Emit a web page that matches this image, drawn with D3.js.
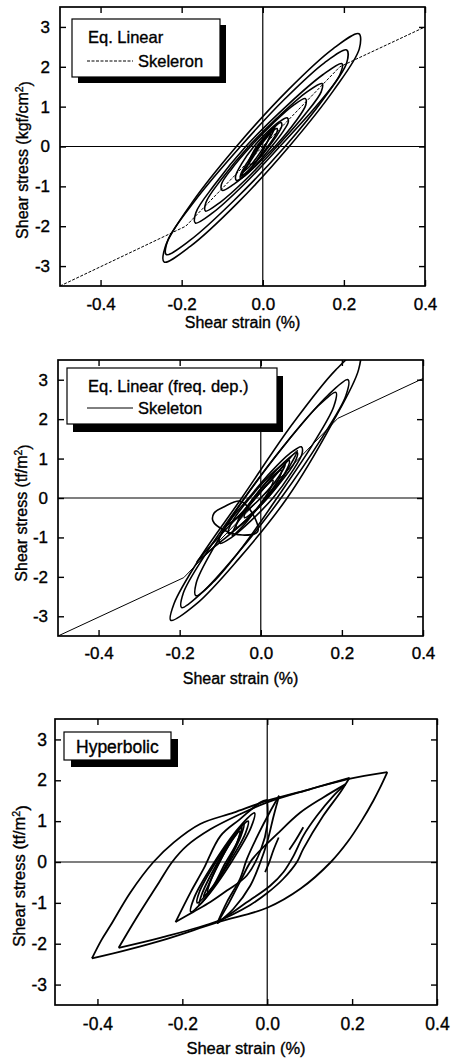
<!DOCTYPE html>
<html>
<head>
<meta charset="utf-8">
<script src="https://cdnjs.cloudflare.com/ajax/libs/d3/7.8.5/d3.min.js"></script>
<style>
  body { margin: 0; background: #fff; }
  svg text { font-family: "Liberation Sans", Arial, Helvetica, sans-serif; fill: #000; stroke: #000; stroke-width: 0.35px; }
</style>
</head>
<body>
<svg id="fig" width="451" height="1058"></svg>
<script>
// ---- axis ticks (same for all three panels)
var xTickValues = [-0.4, -0.2, 0.0, 0.2, 0.4];
var xTickLabels = ["-0.4", "-0.2", "0.0", "0.2", "0.4"];
var yTickValues = [-3, -2, -1, 0, 1, 2, 3];
var yTickLabels = ["-3", "-2", "-1", "0", "1", "2", "3"];

// ---- panel 1 : Eq. Linear  (strain %, stress kgf/cm2)
var eqSkeleton = [[-0.5, -3.5], [-0.19, -2.0], [0.19, 2.0], [0.4, 3.0]];
var eqLoop1 = [[0.237,2.83],[0.173,2.45],[0.062,1.415],[-0.065,0],[-0.175,-1.415],[-0.24,-2.5],[-0.243,-2.9],[-0.178,-2.5],[-0.062,-1.415],[0.065,0],[0.175,1.415],[0.238,2.45]];
var eqLoop2 = [[0.207,2.42],[0.152,2.1],[0.056,1.21],[-0.055,0],[-0.167,-1.355],[-0.234,-2.35],[-0.238,-2.71],[-0.179,-2.35],[-0.071,-1.355],[0.055,0],[0.151,1.21],[0.207,2.1]];
var eqLoop3 = [[0.195,2.08],[0.148,1.8],[0.061,1.04],[-0.042,0],[-0.119,-0.96],[-0.165,-1.66],[-0.166,-1.92],[-0.123,-1.66],[-0.047,-0.96],[0.042,0],[0.134,1.04],[0.19,1.8]];
var eqLoop4 = [[0.146,1.58],[0.109,1.37],[0.043,0.79],[-0.035,0],[-0.101,-0.81],[-0.14,-1.4],[-0.141,-1.62],[-0.105,-1.4],[-0.04,-0.81],[0.035,0],[0.103,0.79],[0.144,1.37]];
var eqLoop5 = [[0.105,1.2],[0.076,1.04],[0.027,0.6],[-0.03,0],[-0.076,-0.55],[-0.102,-0.95],[-0.1,-1.1],[-0.072,-0.95],[-0.024,-0.55],[0.03,0],[0.079,0.6],[0.106,1.04]];
var eqLoop6 = [[0.06,0.72],[0.041,0.62],[0.011,0.36],[-0.022,0],[-0.052,-0.43],[-0.067,-0.74],[-0.065,-0.85],[-0.045,-0.74],[-0.014,-0.43],[0.022,0],[0.049,0.36],[0.063,0.62]];
var eqLoop7 = [[0.035,0.45],[0.024,0.39],[0.007,0.225],[-0.012,0],[-0.038,-0.4],[-0.054,-0.69],[-0.055,-0.8],[-0.042,-0.69],[-0.017,-0.4],[0.012,0],[0.028,0.225],[0.036,0.39]];
var eqLoop8 = [[0.045,0.6],[0.032,0.52],[0.01,0.3],[-0.015,0],[-0.028,-0.225],[-0.034,-0.39],[-0.03,-0.45],[-0.019,-0.39],[-0.002,-0.225],[0.015,0],[0.036,0.3],[0.047,0.52]];
var eqLoop9 = [[0.02,0.35],[0.005,0.2],[-0.02,-0.2],[-0.045,-0.6],[-0.055,-0.75],[-0.035,-0.6],[-0.005,-0.2],[0.015,0.2]];
var eqLoop10 = [[0.03,0.5],[0.012,0.25],[-0.02,-0.15],[-0.04,-0.5],[-0.05,-0.65],[-0.028,-0.45],[0.0,-0.05],[0.022,0.3]];
var eqLoops = [eqLoop1, eqLoop2, eqLoop3, eqLoop4, eqLoop5, eqLoop6, eqLoop7, eqLoop8, eqLoop9, eqLoop10];

// ---- panel 2 : Eq. Linear (freq. dep.)  (stress tf/m2)
var fdSkeleton = [[-0.5, -3.5], [-0.19, -2.02], [0.19, 2.02], [0.4, 3.03]];
var fdLoop1 = [[0.244,3.75],[0.185,3.25],[0.078,1.875],[-0.047,0],[-0.152,-1.55],[-0.214,-2.68],[-0.222,-3.1],[-0.158,-2.68],[-0.055,-1.55],[0.065,0],[0.175,1.875],[0.241,3.25]];
var fdLoop2 = [[0.215,3.0],[0.165,2.6],[0.071,1.5],[-0.04,0],[-0.134,-1.39],[-0.191,-2.41],[-0.195,-2.78],[-0.146,-2.41],[-0.056,-1.39],[0.05,0],[0.149,1.5],[0.21,2.6]];
var fdLoop3 = [[0.185,2.68],[0.14,2.32],[0.058,1.34],[-0.04,0],[-0.115,-1.24],[-0.159,-2.15],[-0.16,-2.48],[-0.119,-2.15],[-0.045,-1.24],[0.04,0],[0.127,1.34],[0.18,2.32]];
var fdLoop4 = [[-0.05,-0.08],[-0.09,-0.22],[-0.115,-0.38],[-0.118,-0.58],[-0.09,-0.82],[-0.045,-0.94],[-0.008,-0.86],[-0.015,-0.5]];
var fdLoop5 = [[0.1,1.3],[0.072,1.13],[0.024,0.65],[-0.03,0],[-0.076,-0.575],[-0.102,-1.0],[-0.1,-1.15],[-0.072,-1.0],[-0.024,-0.575],[0.03,0],[0.076,0.65],[0.102,1.13]];
var fdLoop6 = [[0.07,0.95],[0.034,0.68],[-0.025,0.025],[-0.072,-0.63],[-0.08,-0.9],[-0.044,-0.63],[0.015,0.025],[0.062,0.68]];
var fdLoop7 = [[0.05,0.7],[0.023,0.49],[-0.02,-0.025],[-0.055,-0.54],[-0.06,-0.75],[-0.033,-0.54],[0.01,-0.025],[0.045,0.49]];
var fdLoop8 = [[0.09,1.15],[0.058,0.91],[0.007,0.325],[-0.034,-0.26],[-0.04,-0.5],[-0.008,-0.26],[0.043,0.325],[0.084,0.91]];
var fdLoop9 = [[0.03,0.45],[0.007,0.245],[-0.032,-0.25],[-0.064,-0.745],[-0.07,-0.95],[-0.047,-0.745],[-0.008,-0.25],[0.024,0.245]];
var fdLoop10 = [[0.09,1.2],[0.03,0.5],[-0.04,-0.3],[-0.1,-0.95],[-0.158,-1.62],[-0.11,-1.2],[-0.04,-0.6],[0.04,0.3]];
var fdLoop11 = [[0.06,0.85],[0.02,0.4],[-0.03,-0.2],[-0.07,-0.6],[-0.085,-0.7],[-0.05,-0.45],[0.0,0.0],[0.045,0.55]];
var fdLoops = [fdLoop1, fdLoop2, fdLoop3, fdLoop4, fdLoop5, fdLoop6, fdLoop7, fdLoop8, fdLoop9, fdLoop10, fdLoop11];

// ---- panel 3 : Hyperbolic  (branches between reversal points)
var hypUpA = [[-0.413,-2.36],[-0.39,-1.9],[-0.369,-1.55],[-0.322,-0.74],[-0.268,0],[-0.22,0.48],[-0.158,0.93],[-0.079,1.21],[0,1.5],[0.1,1.78],[0.19,2.03],[0.283,2.2]];
var hypDownB = [[0.283,2.2],[0.265,1.8],[0.25,1.5],[0.222,1.0],[0.19,0.5],[0.15,0],[0.079,-0.65],[0,-1.12],[-0.118,-1.48],[-0.236,-1.88],[-0.33,-2.15],[-0.413,-2.36]];
var hypUpC = [[-0.35,-2.1],[-0.31,-1.4],[-0.255,-0.5],[-0.224,0],[-0.189,0.4],[-0.134,0.8],[-0.064,1.17],[0,1.46],[0.1,1.78],[0.194,2.06]];
var hypDownD = [[0.194,2.06],[0.172,1.7],[0.132,1.13],[0.085,0.32],[0.07,0],[0.038,-0.41],[0,-0.76],[-0.04,-1.05],[-0.118,-1.45],[-0.25,-1.85],[-0.35,-2.1]];
var hypUpE = [[-0.118,-1.5],[-0.09,-1.0],[-0.06,-0.4],[-0.035,0.07],[0.023,0.68],[0.078,1.21],[0.132,1.58],[0.184,1.9]];
var hypDownD2 = [[0.184,1.9],[0.156,1.62],[0.117,1.13],[0.085,0.64],[0.062,0.15],[0.038,-0.25],[0.007,-0.58],[-0.05,-1.0],[-0.118,-1.5]];
var hypUpE2 = [[-0.118,-1.5],[-0.095,-0.98],[-0.064,-0.41],[-0.048,0.07],[-0.02,0.7],[0.005,1.2],[0.028,1.62]];
var hypDownG = [[0.028,1.62],[0.015,1.12],[0,0.49],[-0.016,0],[-0.04,-0.58],[-0.08,-1.15],[-0.118,-1.5]];
var hypUpF = [[-0.216,-1.47],[-0.18,-0.73],[-0.15,-0.17],[-0.11,0.64],[-0.064,1.05],[-0.016,1.46],[0,1.52]];
var hypLowF = [[-0.216,-1.47],[-0.174,-1.22],[-0.134,-0.98],[-0.095,-0.7],[-0.048,-0.33],[-0.015,0.3],[0,0.9],[0,1.52]];
var hypTail1 = [[0.027,0.6],[0.015,0.3],[0.005,0.0],[-0.005,-0.25]];
var hypTail2 = [[0.085,0.85],[0.065,0.5],[0.052,0.3]];
var hypBranches = [hypUpA, hypDownB, hypUpC, hypDownD, hypUpE, hypDownD2, hypUpE2, hypDownG, hypUpF, hypLowF, hypTail1, hypTail2];
var hypInner1 = [[-0.055,0.93],[-0.079,0.64],[-0.1195,-0.06],[-0.153,-0.76],[-0.16,-1.05],[-0.136,-0.76],[-0.0955,-0.06],[-0.062,0.64]];
var hypInner2 = [[-0.03,1.2],[-0.066,0.85],[-0.125,-0.01],[-0.172,-0.87],[-0.18,-1.22],[-0.144,-0.87],[-0.085,-0.01],[-0.038,0.85]];
var hypInner3 = [[-0.065,0.75],[-0.083,0.53],[-0.1125,0],[-0.136,-0.53],[-0.14,-0.75],[-0.122,-0.53],[-0.0925,0],[-0.069,0.53]];
var hypInner4 = [[-0.045,1.0],[-0.074,0.71],[-0.121,0],[-0.159,-0.71],[-0.165,-1.0],[-0.136,-0.71],[-0.089,0],[-0.051,0.71]];
var hypInner5 = [[-0.06,0.85],[-0.085,0.5],[-0.115,-0.05],[-0.14,-0.6],[-0.15,-0.85],[-0.128,-0.6],[-0.1,-0.05],[-0.07,0.5]];
var hypLoops = [hypInner1, hypInner2, hypInner3, hypInner4, hypInner5];

var svg = d3.select("#fig");

function drawPanel(p) {
  var x = d3.scaleLinear().domain([-0.5, 0.4]).range([p.left, p.right]);
  var y = d3.scaleLinear().domain([-3.5, 3.5]).range([p.bottom, p.top]);

  svg.append("clipPath").attr("id", "clip" + p.id)
    .append("rect")
    .attr("x", p.left).attr("y", p.top)
    .attr("width", p.right - p.left).attr("height", p.bottom - p.top);

  var g = svg.append("g");

  // zero lines
  g.append("line")
    .attr("x1", x(-0.5)).attr("x2", x(0.4)).attr("y1", y(0)).attr("y2", y(0))
    .attr("stroke", "#000").attr("stroke-width", 1.2);
  g.append("line")
    .attr("x1", x(0)).attr("x2", x(0)).attr("y1", y(-3.5)).attr("y2", y(3.5))
    .attr("stroke", "#000").attr("stroke-width", 1.2);

  var plot = g.append("g").attr("clip-path", "url(#clip" + p.id + ")");

  var openLine = d3.line().x(d => x(d[0])).y(d => y(d[1])).curve(d3.curveCatmullRom);
  var closedLine = d3.line().x(d => x(d[0])).y(d => y(d[1])).curve(d3.curveCatmullRomClosed);
  var straight = d3.line().x(d => x(d[0])).y(d => y(d[1]));

  if (p.skeleton) {
    plot.append("path").datum(p.skeleton)
      .attr("d", straight)
      .attr("fill", "none").attr("stroke", "#000")
      .attr("stroke-width", 1)
      .attr("stroke-dasharray", p.skelDash || null);
  }

  plot.selectAll("path.loop")
    .data(p.loops || [])
    .enter()
    .append("path")
    .attr("class", "loop")
    .attr("d", closedLine)
    .attr("fill", "none").attr("stroke", "#000")
    .attr("stroke-width", p.lw);

  plot.selectAll("path.branch")
    .data(p.branches || [])
    .enter()
    .append("path")
    .attr("class", "branch")
    .attr("d", openLine)
    .attr("fill", "none").attr("stroke", "#000")
    .attr("stroke-width", p.lw)
    .attr("stroke-linejoin", "miter");

  // axes, ticks pointing inward on all four sides
  var bottom = g.append("g")
    .attr("transform", `translate(0, ${p.bottom})`)
    .call(d3.axisBottom(x).tickValues(xTickValues)
      .tickFormat((d, i) => xTickLabels[i]).tickSize(-6).tickPadding(p.xPad));
  var left = g.append("g")
    .attr("transform", `translate(${p.left}, 0)`)
    .call(d3.axisLeft(y).tickValues(yTickValues)
      .tickFormat((d, i) => yTickLabels[i]).tickSize(-6).tickPadding(p.yPad));
  var top = g.append("g")
    .attr("transform", `translate(0, ${p.top})`)
    .call(d3.axisTop(x).tickValues(xTickValues).tickFormat("").tickSize(-6));
  var right = g.append("g")
    .attr("transform", `translate(${p.right}, 0)`)
    .call(d3.axisRight(y).tickValues(yTickValues).tickFormat("").tickSize(-6));

  [bottom, left, top, right].forEach(a => {
    a.select(".domain").remove();
    a.attr("font-size", p.fs).attr("font-family", null);
    a.selectAll("line").attr("stroke-width", 1.4);
  });

  // frame
  g.append("rect")
    .attr("x", p.left).attr("y", p.top)
    .attr("width", p.right - p.left).attr("height", p.bottom - p.top)
    .attr("fill", "none").attr("stroke", "#000").attr("stroke-width", 1.7);

  // axis titles
  g.append("text")
    .attr("x", (p.left + p.right) / 2).attr("y", p.xlabY)
    .attr("text-anchor", "middle").attr("font-size", p.tfs)
    .text("Shear strain (%)");

  var yl = g.append("text")
    .attr("transform", `translate(${p.ylabX}, ${p.ylabY}) rotate(-90)`)
    .attr("text-anchor", "middle").attr("font-size", p.tfs);
  yl.append("tspan").text(p.yUnit[0]);
  yl.append("tspan").attr("dy", "-0.45em").attr("font-size", p.tfs * 0.65).text("2");
  yl.append("tspan").attr("dy", "0.45em").text(p.yUnit[1]);

  // legend box with drop shadow
  var L = p.legend;
  g.append("rect")
    .attr("x", L.x + L.sx).attr("y", L.y + L.sy).attr("width", L.w).attr("height", L.h)
    .attr("fill", "#000");
  g.append("rect")
    .attr("x", L.x).attr("y", L.y).attr("width", L.w).attr("height", L.h)
    .attr("fill", "#fff").attr("stroke", "#000").attr("stroke-width", 1.2);
  L.texts.forEach(t => {
    g.append("text").attr("x", t[0]).attr("y", t[1])
      .attr("font-size", L.fs).text(t[2]);
  });
  if (L.line) {
    g.append("line")
      .attr("x1", L.line[0]).attr("x2", L.line[1])
      .attr("y1", L.line[2]).attr("y2", L.line[2])
      .attr("stroke", "#000").attr("stroke-width", 1)
      .attr("stroke-dasharray", p.skelDash || null);
  }
}

drawPanel({
  id: 1, left: 60, right: 425, top: 7, bottom: 286,
  xPad: 12, yPad: 10, fs: 17, tfs: 16, lw: 1.6,
  xlabY: 328, ylabX: 28, ylabY: 160,
  yUnit: ["Shear stress (kgf/cm", ")"],
  skeleton: eqSkeleton, skelDash: "3,1.5",
  loops: eqLoops,
  legend: { x: 72, y: 19, w: 148, h: 58, sx: 6, sy: 6, fs: 16.5,
    texts: [[88, 43, "Eq. Linear"], [138, 67, "Skeleron"]],
    line: [87, 133, 61] }
});

drawPanel({
  id: 2, left: 58, right: 423, top: 360, bottom: 636,
  xPad: 11, yPad: 10, fs: 17, tfs: 16, lw: 1.6,
  xlabY: 684, ylabX: 27, ylabY: 513,
  yUnit: ["Shear stress (tf/m", ")"],
  skeleton: fdSkeleton,
  loops: fdLoops,
  legend: { x: 67, y: 368, w: 210, h: 56, sx: 6, sy: 8, fs: 16.5,
    texts: [[88, 392, "Eq. Linear (freq. dep.)"], [138, 414, "Skeleton"]],
    line: [87, 133, 408] }
});

drawPanel({
  id: 3, left: 55, right: 437, top: 719, bottom: 1005,
  xPad: 13, yPad: 8, fs: 17.5, tfs: 16.5, lw: 1.8,
  xlabY: 1054, ylabX: 25, ylabY: 876,
  yUnit: ["Shear stress (tf/m", ")"],
  loops: hypLoops,
  branches: hypBranches,
  legend: { x: 64, y: 732, w: 107, h: 28, sx: 7, sy: 7, fs: 17.5,
    texts: [[76, 753, "Hyperbolic"]] }
});
</script>
</body>
</html>
